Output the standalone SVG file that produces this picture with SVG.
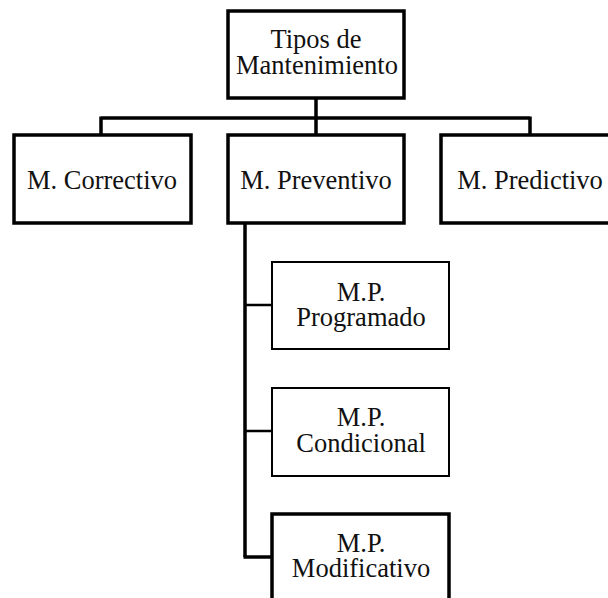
<svg xmlns="http://www.w3.org/2000/svg" width="608" height="598" viewBox="0 0 608 598">
<style>
.b{fill:#fff;stroke:#000;stroke-width:3.5}
.s{fill:#fff;stroke:#000;stroke-width:2}
.t{font-family:"Liberation Serif","Times New Roman",serif;font-size:26.5px;fill:#111;text-anchor:middle}
.c{fill:none;stroke:#000}
</style>
<rect width="608" height="598" fill="#fff"/>
<g id="connectors">
<path class="c" stroke-width="3.5" d="M316 98V135M101 118H530M101 116.5V135M530 116.5V135M245 223V557"/>
<path class="c" stroke-width="2.5" d="M245 305H272M245 431H272"/>
<path class="c" stroke-width="3.5" d="M243.5 557H272"/>
</g>
<g id="root"><rect class="b" x="228" y="11" width="176" height="87"/><text class="t" x="316" y="48">Tipos de</text><text class="t" x="317" y="74">Mantenimiento</text></g>
<g id="correctivo"><rect class="b" x="14" y="135" width="177" height="88"/><text class="t" x="102" y="189">M. Correctivo</text></g>
<g id="preventivo"><rect class="b" x="228" y="135" width="176" height="88"/><text class="t" x="316" y="189">M. Preventivo</text></g>
<g id="predictivo"><rect class="b" x="441" y="135" width="178" height="88"/><text class="t" x="530" y="189">M. Predictivo</text></g>
<g id="programado"><rect class="s" x="272" y="262" width="177" height="87"/><text class="t" x="361" y="301">M.P.</text><text class="t" x="361" y="326">Programado</text></g>
<g id="condicional"><rect class="s" x="272" y="388" width="177" height="88"/><text class="t" x="361" y="426">M.P.</text><text class="t" x="361" y="452">Condicional</text></g>
<g id="modificativo"><rect class="b" x="272" y="514" width="177" height="100"/><text class="t" x="361" y="552">M.P.</text><text class="t" x="361" y="577">Modificativo</text></g>
</svg>
